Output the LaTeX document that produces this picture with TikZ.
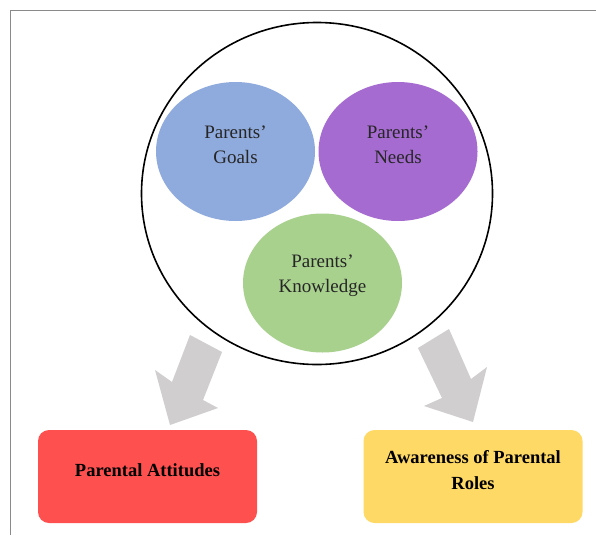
\documentclass[tikz,border=0pt]{standalone}
\usepackage{fontspec}
\setmainfont{Liberation Serif}
\usetikzlibrary{shapes.geometric}
\definecolor{goalblue}{HTML}{8FAADC}
\definecolor{needpurple}{HTML}{A56BD0}
\definecolor{knowgreen}{HTML}{A9D18E}
\definecolor{attred}{HTML}{FF5050}
\definecolor{roleyellow}{HTML}{FFD966}
\definecolor{arrowgray}{HTML}{D0CECF}
\definecolor{framegray}{HTML}{8A8A8A}
\tikzset{
  bubble/.style={ellipse, inner sep=0pt, minimum width=159pt, minimum height=139pt, draw=none},
  bubbletext/.style={align=center, font=\fontsize{19}{25}\selectfont, text=black!85, yshift=7pt},
  outcome/.style={rectangle, rounded corners=11pt, minimum width=219pt, minimum height=93pt, inner sep=0pt},
  outcometext/.style={align=center, font=\fontsize{18.5}{26}\selectfont\bfseries, yshift=6pt},
  blockarrow/.style={fill=arrowgray, draw=none}
}
\begin{document}
\begin{tikzpicture}[x=1pt,y=-1pt]
\useasboundingbox (0,0) rectangle (596,535);
\fill[white] (0,0) rectangle (596,535);
% frame
\draw[framegray, line width=1.5pt] (10.5,535) -- (10.5,10.5) -- (596,10.5);
% big circle
\node[ellipse, draw=black, line width=1.6pt, minimum width=351pt, minimum height=342pt, inner sep=0pt] (outer) at (317,193.5) {};
% bubbles
\node[bubble, fill=goalblue, label={[bubbletext]center:Parents’\\Goals}] (goals) at (235.5,151.5) {};
\node[bubble, fill=needpurple, label={[bubbletext]center:Parents’\\Needs}] (needs) at (398,151.5) {};
\node[bubble, fill=knowgreen, label={[bubbletext]center:Parents’\\Knowledge}] (know) at (322.5,283) {};
% outcome boxes
\node[outcome, fill=attred, label={[outcometext]center:Parental Attitudes}] (att) at (147.5,476.5) {};
\node[outcome, fill=roleyellow, label={[outcometext]center:Awareness of Parental\\Roles}] (roles) at (473,476.5) {};
% block arrows
\fill[blockarrow] (190,335) -- (222,352) -- (203,400) -- (218,408) -- (170,425) -- (155,370) -- (172,382) -- cycle;
\fill[blockarrow] (449,329) -- (418,348) -- (442,398) -- (424,406) -- (473,422) -- (487,367) -- (471,379) -- cycle;
\end{tikzpicture}
\end{document}
